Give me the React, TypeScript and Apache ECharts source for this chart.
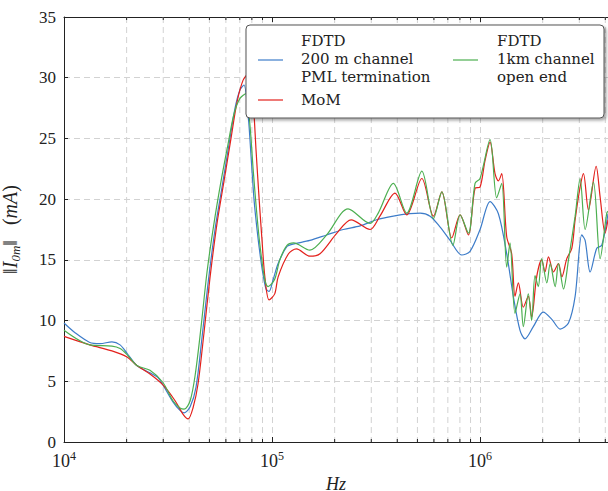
import React, { useEffect, useRef } from "react";
import * as echarts from "echarts";

// ---- data (frequency in Hz, current in mA) ----
const blueHz = [10000, 11300, 13300, 14900, 17000, 18600, 20100, 22400, 25900, 28300, 29900, 33400, 36100, 37800, 40400, 43100, 46000, 49200, 53200, 57500, 62100, 66400, 70100, 73300, 76700, 79300, 81900, 84700, 87500, 90500, 93600, 96800, 101000, 107000, 118000, 126000, 152000, 183000, 220000, 265000, 318000, 383000, 460000, 515000, 575000, 643000, 718000, 817000, 895000, 1000000, 1117000, 1225000, 1343000, 1445000, 1556000, 1644000, 1803000, 2014000, 2213000, 2427000, 2661000, 2864000, 3083000, 3199000, 3381000, 3639000, 3846000, 4121000];
const blueMA = [9.8, 9.0, 8.2, 8.1, 8.25, 8.0, 7.3, 6.3, 5.7, 5.3, 4.7, 3.3, 2.6, 2.4, 2.9, 4.5, 8.5, 13, 17.5, 21, 24.5, 27.5, 29, 29.4, 27, 23.5, 20, 17.5, 15.5, 13.8, 12.6, 12.4, 13.3, 14.7, 16.1, 16.3, 16.6, 17.05, 17.5, 17.8, 18.3, 18.6, 18.8, 18.85, 18.6, 17.7, 16.6, 15.4, 15.7, 17.5, 19.8, 18.8, 15.5, 12.0, 9.2, 8.5, 9.5, 10.7, 10.1, 9.3, 9.8, 12.0, 17.05, 16.6, 14.0, 15.95, 16.2, 18.8];

const redHz = [10000, 13300, 17000, 20100, 22400, 25900, 29900, 34200, 37300, 39500, 41700, 44100, 47100, 50300, 54400, 58800, 63500, 67900, 72600, 77400, 81100, 83800, 86700, 89600, 92500, 96800, 103000, 107000, 120000, 131000, 152000, 170000, 205000, 240000, 296000, 330000, 390000, 444000, 525000, 597000, 655000, 731000, 802000, 879000, 946000, 1000000, 1057000, 1117000, 1180000, 1225000, 1271000, 1343000, 1419000, 1472000, 1528000, 1614000, 1706000, 1770000, 1871000, 1977000, 2051000, 2133000, 2254000, 2382000, 2472000, 2612000, 2761000, 2864000, 3027000, 3141000, 3319000, 3614000, 3776000, 3990000, 4121000];
const redMA = [8.7, 8.0, 7.5, 7.0, 6.3, 5.6, 4.7, 3.4, 2.3, 1.9, 2.8, 4.8, 9, 13.5, 18, 21.5, 25, 28, 29.8, 30.4, 28, 24, 20, 16.5, 13.5, 11.7, 12.2, 13.6, 15.5, 15.9, 15.3, 15.5, 17.2, 18.3, 17.5, 18.6, 20.5, 18.7, 21.7, 18.6, 20.6, 16.8, 18.7, 17.05, 20.9, 21.0, 23.2, 24.7, 22.1, 21.5, 22.1, 16.9, 15.5, 12.0, 13.1, 11.1, 12.0, 10.3, 13.6, 15.0, 14.0, 15.25, 14.0, 14.7, 13.6, 15.1, 15.95, 18.3, 21.0, 22.1, 19.1, 22.7, 20.2, 17.2, 18.3];

const greenHz = [10000, 13300, 17000, 18600, 20100, 22400, 25900, 29900, 33400, 36100, 37800, 40400, 42700, 45600, 48700, 52600, 56900, 61400, 65600, 70100, 75000, 78400, 81100, 83800, 86700, 89600, 92500, 95700, 103000, 109000, 118000, 127000, 152000, 183000, 232000, 296000, 324000, 383000, 444000, 525000, 597000, 655000, 740000, 802000, 879000, 946000, 1000000, 1117000, 1202000, 1271000, 1343000, 1393000, 1472000, 1556000, 1614000, 1706000, 1770000, 1837000, 1905000, 1977000, 2094000, 2173000, 2296000, 2382000, 2518000, 2661000, 2864000, 3027000, 3199000, 3508000, 3776000, 4064000, 4121000];
const greenMA = [9.2, 8.0, 7.9, 7.7, 7.2, 6.3, 5.9, 4.9, 3.4, 2.8, 2.7, 3.4, 5.5, 9.5, 14, 18, 21.5, 24.5, 27, 28.3, 28.7, 26, 22.5, 19.5, 16.8, 14.8, 13.3, 12.8, 13.4, 15.0, 16.2, 16.4, 15.8, 17.05, 19.2, 18.0, 18.85, 21.3, 18.85, 22.3, 18.4, 20.6, 16.2, 18.7, 17.2, 21.3, 21.7, 24.9, 20.1, 21.3, 14.4, 16.4, 10.6, 12.2, 9.5, 12.2, 10.0, 13.7, 12.8, 15.1, 13.1, 14.7, 12.8, 14.7, 12.6, 15.0, 18.6, 21.7, 17.5, 21.4, 15.1, 18.85, 19.0];

const minorTicksHz = [20000, 30000, 40000, 50000, 60000, 70000, 80000, 90000, 200000, 300000, 400000, 500000, 600000, 700000, 800000, 900000, 2000000, 3000000, 4000000];

const X_MIN = 10000;
const X_MAX = 4121000;
const Y_MIN = 0;
const Y_MAX = 35;
const Y_STEP = 5;

const FONT = "Liberation Serif, DejaVu Serif, serif";
const LEG_FONT = "DejaVu Serif, Liberation Serif, serif";
const BLUE = "#3d7cc9";
const RED = "#e3211c";
const GREEN = "#4caf50";
const GRID_C = "#d2d2d2";
const INK = "#222";

function zip(a: number[], b: number[]) {
  return a.map((v, i) => [v, b[i]]);
}

export default function App() {
  const ref = useRef<HTMLDivElement>(null);
  useEffect(() => {
    if (!ref.current) return;
    const chart = echarts.init(ref.current, undefined, { renderer: "svg" });
    const powLabel = (v: number) => {
      const e = Math.log10(v);
      if (Math.abs(e - Math.round(e)) > 1e-6) return "";
      return `{b|10}{s|${Math.round(e)}}`;
    };
    const lineSeries = (name: string, xs: number[], ys: number[], color: string) => ({
      type: "line",
      name,
      data: zip(xs, ys),
      showSymbol: false,
      smooth: 0.3,
      lineStyle: { color, width: 1.2 },
      itemStyle: { color },
      z: 3,
      silent: true,
    });
    const legendText = (text: string, x: number, y: number) => ({
      type: "text",
      z: 101,
      style: { text, x, y, fontFamily: LEG_FONT, fontSize: 15, fill: INK, verticalAlign: "middle", align: "left" },
    });
    const legendLine = (x: number, y: number, color: string) => ({
      type: "line",
      z: 101,
      shape: { x1: x, y1: y, x2: x + 25, y2: y },
      style: { stroke: color, lineWidth: 1.2 },
    });
    chart.setOption({
      animation: false,
      backgroundColor: "#fff",
      grid: { left: 64, right: 0, top: 17, bottom: 49, containLabel: false, outerBoundsMode: "none" },
      xAxis: [
        {
          type: "log",
          logBase: 10,
          min: X_MIN,
          max: X_MAX,
          position: "bottom",
          name: "Hz",
          nameLocation: "middle",
          nameGap: 22,
          nameTextStyle: { fontFamily: FONT, fontStyle: "italic", fontSize: 18, color: INK },
          axisLine: { show: true, lineStyle: { color: INK, width: 1 } },
          axisTick: { show: true, inside: true, length: 5, lineStyle: { color: INK } },
          axisLabel: {
            formatter: powLabel,
            showMaxLabel: false,
            margin: 8,
            fontFamily: FONT,
            rich: {
              b: { fontFamily: FONT, fontSize: 18, color: INK, lineHeight: 20, verticalAlign: "bottom" },
              s: { fontFamily: FONT, fontSize: 12, color: INK, lineHeight: 12, verticalAlign: "top" },
            },
          },
          splitLine: { show: true, lineStyle: { color: GRID_C, type: [6, 4], width: 1 } },
        },
        {
          type: "log",
          logBase: 10,
          min: X_MIN,
          max: X_MAX,
          position: "top",
          axisLine: { show: true, lineStyle: { color: INK, width: 1 } },
          axisTick: { show: true, inside: true, length: 5, lineStyle: { color: INK } },
          axisLabel: { show: false },
          splitLine: { show: false },
        },
      ],
      yAxis: {
        type: "value",
        min: Y_MIN,
        max: Y_MAX,
        interval: Y_STEP,
        name: "{n|‖}{i|I}{sub|0m}{n|‖}   {n|(}{i|mA}{n|)}",
        nameLocation: "middle",
        nameRotate: 90,
        nameGap: 42,
        nameTextStyle: {
          fontFamily: FONT,
          fontSize: 20,
          rich: {
            n: { fontFamily: FONT, fontSize: 20, color: INK, lineHeight: 24 },
            i: { fontFamily: FONT, fontStyle: "italic", fontSize: 20, color: INK, lineHeight: 24 },
            sub: { fontFamily: FONT, fontStyle: "italic", fontSize: 13, color: INK, lineHeight: 11, verticalAlign: "bottom" },
          },
        },
        axisLine: { show: true, lineStyle: { color: INK, width: 1 } },
        axisTick: { show: true, inside: true, length: 4, lineStyle: { color: INK } },
        axisLabel: { fontFamily: FONT, fontSize: 17, color: INK, margin: 8 },
        splitLine: { show: true, lineStyle: { color: GRID_C, type: [6, 4], width: 1 } },
      },
      series: [
        {
          type: "custom",
          silent: true,
          z: 1,
          data: minorTicksHz.map((f) => [f, 0]),
          encode: { x: 0, y: 1 },
          renderItem: (params: any, api: any) => {
            const x = api.coord([api.value(0), 0])[0];
            const cs = params.coordSys;
            return {
              type: "group",
              children: [
                { type: "line", shape: { x1: x, y1: cs.y, x2: x, y2: cs.y + cs.height }, style: { stroke: GRID_C, lineWidth: 1, lineDash: [6, 4] } },
                { type: "line", shape: { x1: x, y1: cs.y + cs.height, x2: x, y2: cs.y + cs.height - 3 }, style: { stroke: INK, lineWidth: 1 } },
                { type: "line", shape: { x1: x, y1: cs.y, x2: x, y2: cs.y + 3 }, style: { stroke: INK, lineWidth: 1 } },
              ],
            };
          },
        },
        lineSeries("FDTD 200 m channel PML termination", blueHz, blueMA, BLUE),
        lineSeries("MoM", redHz, redMA, RED),
        lineSeries("FDTD 1km channel open end", greenHz, greenMA, GREEN),
      ],
      graphic: [
        {
          type: "rect",
          z: 100,
          shape: { x: 246, y: 25, width: 358, height: 93, r: 4 },
          style: { fill: "#fff", stroke: "#555", lineWidth: 1, shadowBlur: 3, shadowOffsetX: 2, shadowOffsetY: 2, shadowColor: "rgba(0,0,0,0.35)" },
        },
        legendLine(258, 60, BLUE),
        legendText("FDTD", 301, 41),
        legendText("200 m channel", 301, 59),
        legendText("PML termination", 301, 77),
        legendLine(258, 100, RED),
        legendText("MoM", 301, 100),
        legendLine(453, 60, GREEN),
        legendText("FDTD", 497, 41),
        legendText("1km channel", 497, 59),
        legendText("open end", 497, 77),
      ],
    });
    return () => chart.dispose();
  }, []);
  return <div ref={ref} style={{ position: "fixed", left: 0, top: 0, width: 608, height: 491 }} />;
}
